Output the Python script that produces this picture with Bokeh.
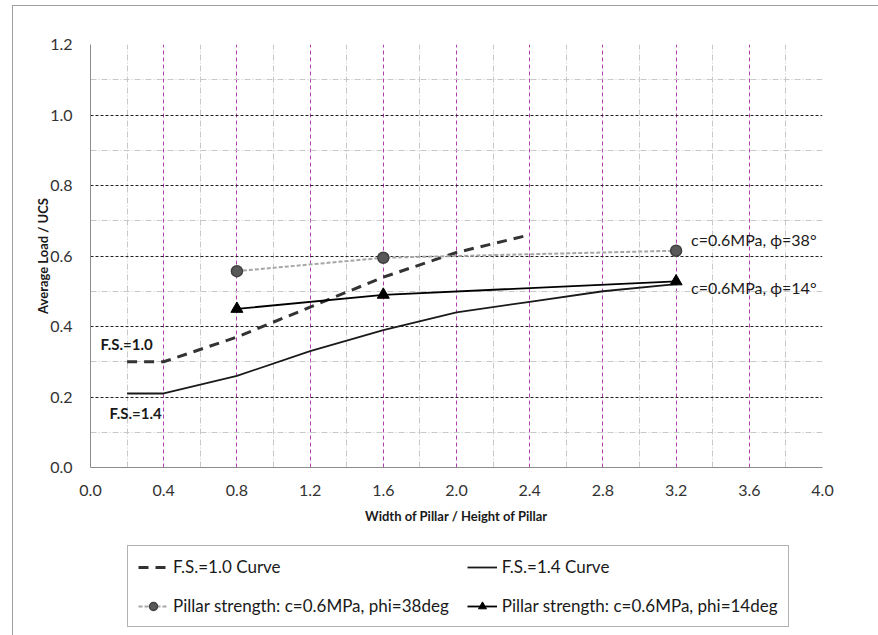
from bokeh.plotting import figure
from bokeh.layouts import column
from bokeh.embed import file_html
from bokeh.resources import INLINE
from bokeh.models import Legend, LegendItem, Label, Range1d, FixedTicker

# ---- data ----
fs10_x = [0.2, 0.4, 0.8, 1.2, 1.6, 2.0, 2.4]
fs10_y = [0.30, 0.30, 0.37, 0.455, 0.54, 0.61, 0.66]
fs14_x = [0.2, 0.4, 0.8, 1.2, 1.6, 2.0, 2.4, 2.8, 3.2]
fs14_y = [0.21, 0.21, 0.26, 0.33, 0.39, 0.44, 0.47, 0.50, 0.52]
p38_x = [0.8, 1.6, 3.2]
p38_y = [0.557, 0.595, 0.615]
p14_x = [0.8, 1.6, 3.2]
p14_y = [0.45, 0.49, 0.528]
x_ticks = [0.0, 0.4, 0.8, 1.2, 1.6, 2.0, 2.4, 2.8, 3.2, 3.6, 4.0]
y_ticks = [0.0, 0.2, 0.4, 0.6, 0.8, 1.0, 1.2]
x_minor = [0.2, 0.6, 1.0, 1.4, 1.8, 2.2, 2.6, 3.0, 3.4, 3.8]
y_minor = [0.1, 0.3, 0.5, 0.7, 0.9, 1.1]
labels = ["F.S.=1.0 Curve", "F.S.=1.4 Curve",
          "Pillar strength: c=0.6MPa, phi=38deg",
          "Pillar strength: c=0.6MPa, phi=14deg"]

FONT = "Lato"

p = figure(width=865, height=530, output_backend="svg", toolbar_location=None,
           x_range=Range1d(0, 4.0), y_range=Range1d(0, 1.2),
           min_border_left=77, min_border_right=56, min_border_top=38,
           min_border_bottom=69, outline_line_color=None)

# axes
p.xaxis.ticker = FixedTicker(ticks=x_ticks, minor_ticks=x_minor)
p.yaxis.ticker = FixedTicker(ticks=y_ticks, minor_ticks=y_minor)
p.xaxis.major_label_overrides = {t: f"{t:.1f}" for t in x_ticks}
p.yaxis.major_label_overrides = {t: f"{t:.1f}" for t in y_ticks}
for ax in (p.xaxis, p.yaxis):
    ax.major_tick_line_color = None
    ax.minor_tick_line_color = None
    ax.axis_line_color = "#8c8c8c"
    ax.major_label_text_font = FONT
    ax.major_label_text_font_size = "16px"
    ax.major_label_text_color = "#333333"
    ax.axis_label_text_font = FONT
    ax.axis_label_text_font_size = "13px"
    ax.axis_label_text_font_style = "bold"
    ax.axis_label_text_color = "#1a1a1a"
p.xaxis.axis_label = "Width of Pillar / Height of Pillar"
p.yaxis.axis_label = "Average Load / UCS"
p.xaxis.major_label_standoff = 11
p.yaxis.major_label_standoff = 12
p.xaxis.axis_label_standoff = 9
p.yaxis.axis_label_standoff = -4

# grids
p.xgrid.grid_line_color = "#b040b0"
p.xgrid.grid_line_dash = "4 3"
p.xgrid.grid_line_width = 1
p.xgrid.minor_grid_line_color = "#c8c8c8"
p.xgrid.minor_grid_line_dash = "6 2 1 2"
p.ygrid.grid_line_color = "#222222"
p.ygrid.grid_line_dash = "3 2"
p.ygrid.grid_line_width = 1
p.ygrid.minor_grid_line_color = "#c8c8c8"
p.ygrid.minor_grid_line_dash = "6 2 1 2"

# series styles
S_FS10 = dict(line_color="#333333", line_width=3, line_dash="10 7")
S_FS14 = dict(line_color="#1a1a1a", line_width=1.8)
S_P38L = dict(line_color="#a6a6a6", line_width=2, line_dash="4 2")
S_P38M = dict(marker="circle", size=11, fill_color="#595959", line_color="#404040", line_width=1.5)
S_P14L = dict(line_color="#000000", line_width=1.8)
S_P14M = dict(marker="triangle", size=12, fill_color="#000000", line_color="#000000")

p.line(fs10_x, fs10_y, **S_FS10)
p.line(fs14_x, fs14_y, **S_FS14)
p.line(p38_x, p38_y, **S_P38L)
p.scatter(p38_x, p38_y, **S_P38M)
p.line(p14_x, p14_y, **S_P14L)
p.scatter(p14_x, p14_y, **S_P14M)

# annotations
p.add_layout(Label(x=3.2, y=p38_y[2], x_offset=15, y_offset=11, text="c=0.6MPa, \u03d5=38\u00b0",
                   text_font=FONT, text_font_size="16px", text_baseline="middle",
                   text_color="#1a1a1a"))
p.add_layout(Label(x=3.2, y=p14_y[2], x_offset=15, y_offset=-6, text="c=0.6MPa, \u03d5=14\u00b0",
                   text_font=FONT, text_font_size="16px", text_baseline="middle",
                   text_color="#1a1a1a"))
p.add_layout(Label(x=0.055, y=0.349, text="F.S.=1.0", text_font=FONT,
                   text_font_size="15px", text_font_style="bold",
                   text_baseline="middle", text_color="#1a1a1a"))
p.add_layout(Label(x=0.104, y=0.156, text="F.S.=1.4", text_font=FONT,
                   text_font_size="15px", text_font_style="bold",
                   text_baseline="middle", text_color="#1a1a1a"))

# legend panel: a second figure whose view range lies away from the data,
# so its renderers only supply the legend glyphs
q = figure(width=865, height=99, output_backend="svg", toolbar_location=None,
           x_range=Range1d(100, 101), y_range=Range1d(100, 101),
           x_axis_location=None, y_axis_location=None,
           min_border=0, outline_line_color=None)
q.grid.visible = False
g1 = q.line(fs10_x, fs10_y, **S_FS10)
g2 = q.line(fs14_x, fs14_y, **S_FS14)
g3a = q.line(p38_x, p38_y, **S_P38L)
g3b = q.scatter(p38_x, p38_y, **S_P38M)
g4a = q.line(p14_x, p14_y, **S_P14L)
g4b = q.scatter(p14_x, p14_y, **S_P14M)
legend = Legend(items=[
    LegendItem(label=labels[0], renderers=[g1]),
    LegendItem(label=labels[1], renderers=[g2]),
    LegendItem(label=labels[2], renderers=[g3a, g3b]),
    LegendItem(label=labels[3], renderers=[g4a, g4b]),
], orientation="horizontal", ncols=2, location=(37, 8),
    label_text_font=FONT, label_text_font_size="17px", label_text_color="#1a1a1a",
    glyph_width=30, glyph_height=20, label_height=20, spacing=18, padding=10,
    label_standoff=5, border_line_color="#666666", border_line_width=1.5,
    background_fill_alpha=1.0, margin=0)
q.add_layout(legend, "center")

layout = column(p, q, spacing=0, margin=(5, 0, 0, 12),
                styles={"border-left": "1px solid #a0a0a0", "border-top": "1px solid #a0a0a0"})

open("out.html", "w").write(file_html(layout, INLINE))
